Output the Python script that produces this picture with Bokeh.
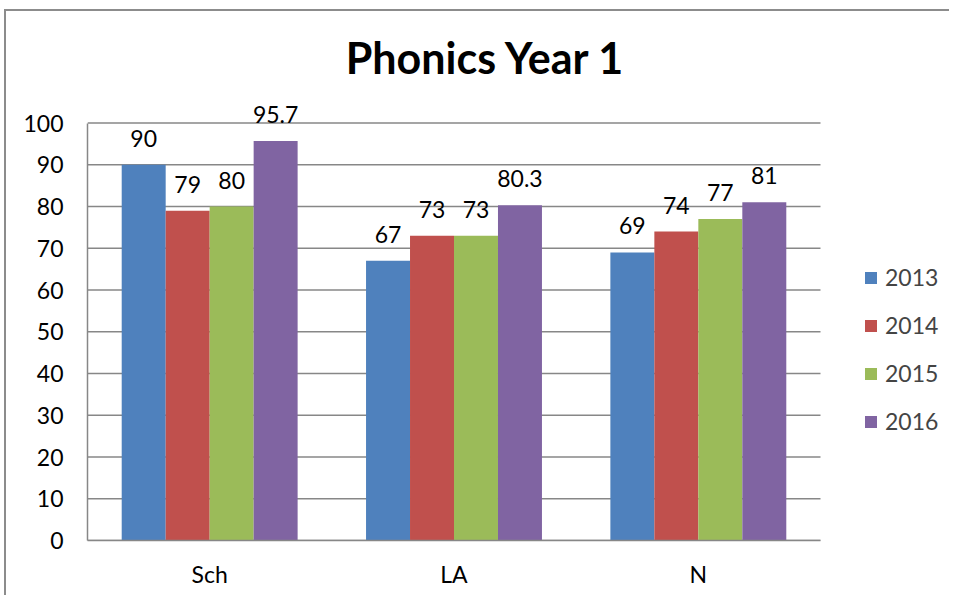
from bokeh.plotting import figure
from bokeh.models import (ColumnDataSource, Range1d, FixedTicker,
                          LabelSet, Label, Legend)
from bokeh.core.properties import value
from bokeh.embed import file_html
from bokeh.resources import INLINE

categories = ["Sch", "LA", "N"]
years = ["2013", "2014", "2015", "2016"]
v2013 = [90, 67, 69]
v2014 = [79, 73, 74]
v2015 = [80, 73, 77]
v2016 = [95.7, 80.3, 81]
y_ticks = [0, 10, 20, 30, 40, 50, 60, 70, 80, 90, 100]
title_text = "Phonics Year 1"

colors = ["#4F81BD", "#C0504D", "#9BBB59", "#8064A2"]
series = [v2013, v2014, v2015, v2016]

centers = [i + 0.5 for i in range(len(categories))]
bw = 0.18
offsets = [-0.27, -0.09, 0.09, 0.27]

data = {"cx": centers}
for yr, vals, off in zip(years, series, offsets):
    data[yr] = vals
    data["x" + yr] = [c + off for c in centers]
    data["lbl" + yr] = [f"{v:g}" for v in vals]
src = ColumnDataSource(data)

W, H = 945, 586
ML, MB = 81, 57
px_per_cat = 733 / 3.0
px_per_unit = 417.5 / 100.0
x_end = (W - ML) / px_per_cat
y_end = (H - MB) / px_per_unit

p = figure(width=W, height=H, output_backend="svg", toolbar_location=None,
           x_range=Range1d(0, x_end), y_range=Range1d(0, y_end),
           min_border_left=ML, min_border_right=0, min_border_top=0,
           min_border_bottom=MB,
           styles={"border-left": "2px solid #8c8c8c",
                   "border-top": "2px solid #8c8c8c",
                   "margin-left": "4px", "margin-top": "9px"})
p.outline_line_color = None
p.background_fill_color = "white"
p.border_fill_color = "white"
p.xgrid.grid_line_color = None
p.ygrid.grid_line_color = None

FONT = "Lato"

# horizontal gridlines limited to the plot area
grid_src = ColumnDataSource({"y": y_ticks, "x0": [0] * len(y_ticks),
                             "x1": [len(categories)] * len(y_ticks)})
p.segment(x0="x0", x1="x1", y0="y", y1="y", source=grid_src,
          line_color="#878787", line_width=1.5)

renderers = []
for yr, col in zip(years, colors):
    r = p.vbar(x="x" + yr, top=yr, width=bw, source=src,
               fill_color=col, line_color=None)
    renderers.append((yr, r))
    ls = LabelSet(x="x" + yr, y=yr, text="lbl" + yr, source=src,
                  text_align="center", text_baseline="alphabetic",
                  y_offset=18, text_font=value(FONT),
                  text_font_size=value("23px"), text_color="black")
    p.add_layout(ls)

legend = Legend(items=[(yr, [r]) for yr, r in renderers],
                location=(776, 105), orientation="vertical",
                glyph_width=15, glyph_height=15, label_height=22,
                spacing=20, padding=0, margin=0, label_standoff=7,
                label_text_font=FONT, label_text_font_size="23px",
                border_line_color=None, background_fill_alpha=0)
p.add_layout(legend)

p.yaxis.ticker = FixedTicker(ticks=y_ticks)
p.yaxis.bounds = (0, 100)
p.xaxis.ticker = FixedTicker(ticks=centers)
p.xaxis.major_label_overrides = {c: name for c, name in zip(centers, categories)}
p.xaxis.bounds = (0, len(categories))

for ax in (p.xaxis[0], p.yaxis[0]):
    ax.axis_line_color = "#878787"
    ax.axis_line_width = 1.5
    ax.major_tick_line_color = None
    ax.minor_tick_line_color = None
    ax.major_tick_out = 0
    ax.major_tick_in = 0
    ax.major_label_text_font = FONT
    ax.major_label_text_font_size = "23px"
    ax.major_label_text_color = "black"
p.yaxis.major_label_standoff = 24
p.xaxis.major_label_standoff = 19

title = Label(x=1.63, y=115.8, text=title_text,
              text_align="center", text_baseline="alphabetic",
              text_font=FONT, text_font_style="bold", text_font_size="43px",
              text_color="black")
p.add_layout(title)

open("out.html", "w").write(file_html(p, INLINE))
